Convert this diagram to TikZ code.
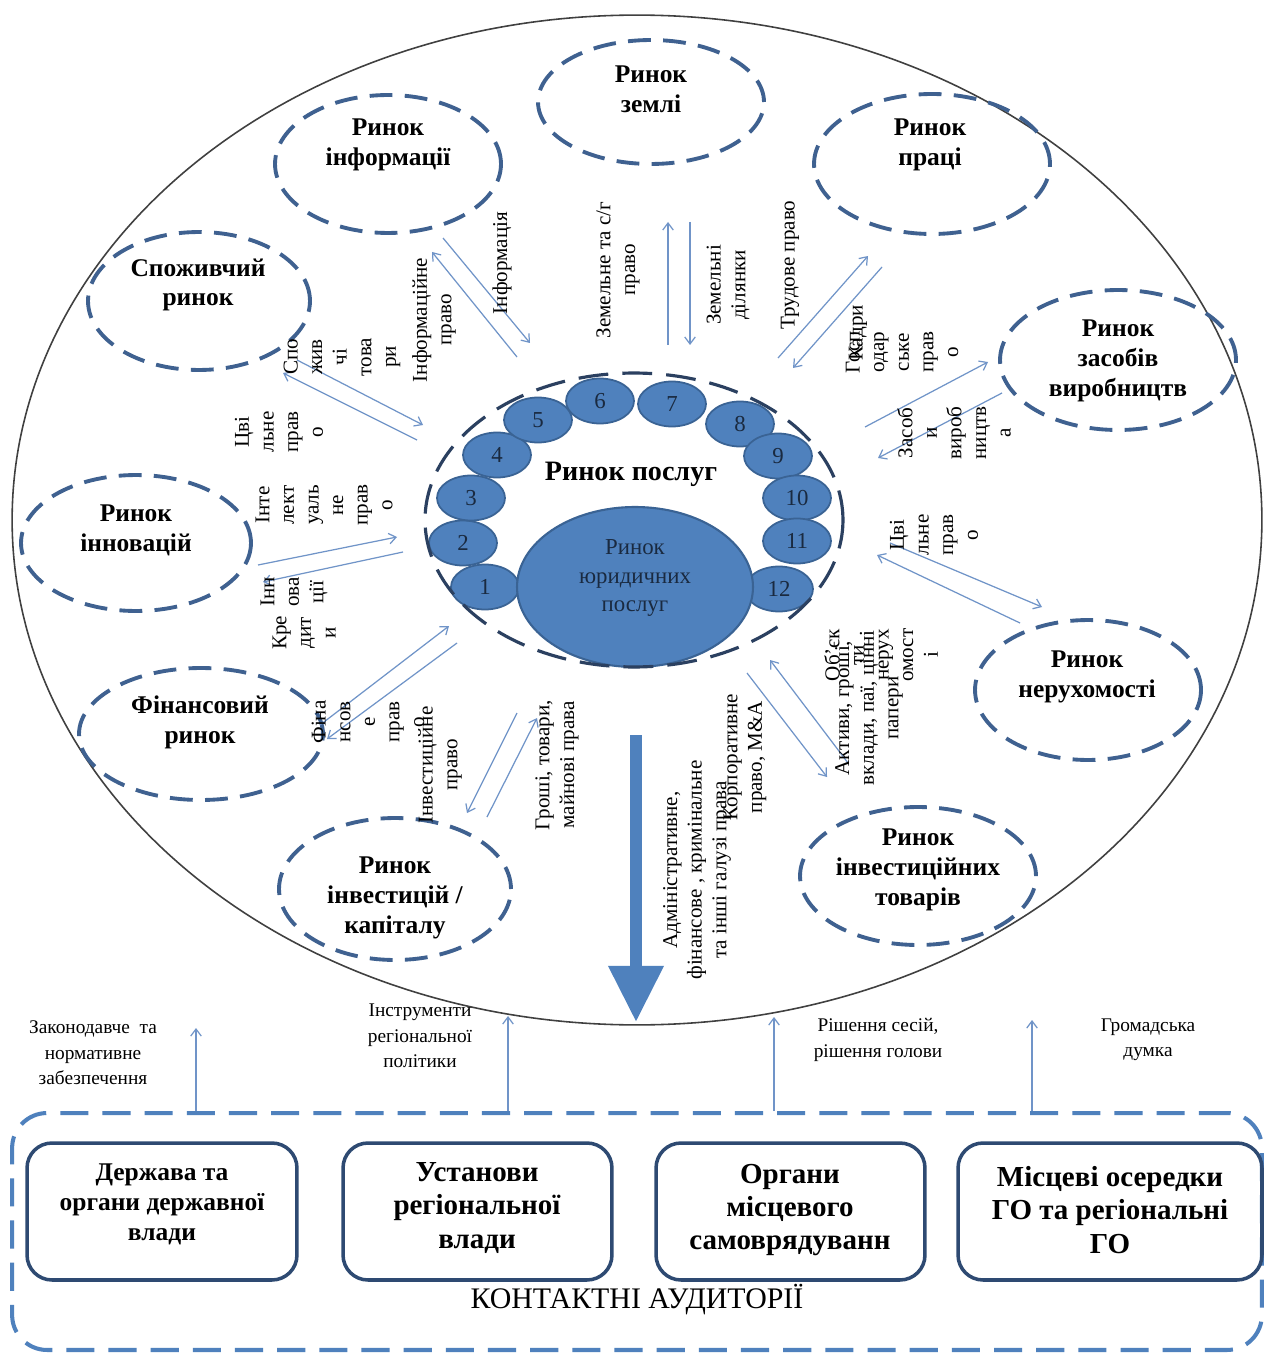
\documentclass[tikz,border=0pt]{standalone}
\usepackage{fontspec}
\setmainfont{Liberation Serif}
\usetikzlibrary{shapes.geometric,arrows.meta}
\definecolor{dashblue}{HTML}{3F6190}
\definecolor{arrblue}{HTML}{7094C8}
\definecolor{fillblue}{HTML}{4F81BD}
\definecolor{fillline}{HTML}{3A6394}
\definecolor{innerdash}{HTML}{2B4060}
\definecolor{boxline}{HTML}{2E4A72}
\definecolor{txtdark}{HTML}{1A2A40}
\begin{document}
\begin{tikzpicture}[x=0.02cm,y=-0.02cm,
  market/.style={ellipse, draw=dashblue, line width=2.2pt, dash pattern=on 13pt off 7pt, inner sep=0pt},
  mtext/.style={font=\fontsize{14.5}{17}\selectfont\bfseries, align=center, inner sep=0pt},
  numb/.style={ellipse, draw=fillline, fill=fillblue, line width=1pt, minimum width=1.36cm, minimum height=0.9cm, inner sep=0pt, font=\fontsize{13}{15}\selectfont, text=txtdark},
  lab/.style={rotate=90, align=center, font=\fontsize{12}{14}\selectfont, inner sep=0pt},
  flow/.style={draw=arrblue, line width=0.7pt, -{Straight Barb[length=4pt,width=6pt]}},
  box/.style={draw=boxline, line width=2pt, rounded corners=0.5cm, minimum height=2.74cm, inner sep=0pt},
  btext/.style={align=center, font=\fontsize{16.5}{19}\selectfont\bfseries, inner sep=0pt},
  small/.style={align=center, font=\fontsize{11}{14.5}\selectfont, inner sep=0pt},
]
\useasboundingbox (0,0) rectangle (1264,1354);
\fill[white] (0,0) rectangle (1264,1354);

% outer ellipse
\node[ellipse, draw=black!75, line width=0.9pt, minimum width=25cm, minimum height=20.2cm, inner sep=0pt] (outer) at (637,520) {};

% markets
\node[market, minimum width=4.52cm, minimum height=2.48cm] (zem) at (651,102) {};
\node[mtext] (zemT) at (651,89) {Ринок\\землі};
\node[market, minimum width=4.52cm, minimum height=2.76cm] (inf) at (388,164) {};
\node[mtext] (infT) at (388,145) {Ринок\\інформації};
\node[market, minimum width=4.72cm, minimum height=2.8cm] (prac) at (932,164) {};
\node[mtext] (pracT) at (930,145) {Ринок\\праці};
\node[market, minimum width=4.44cm, minimum height=2.76cm] (spozh) at (199,301) {};
\node[mtext] (spozhT) at (198,285) {Споживчий\\ринок};
\node[market, minimum width=4.72cm, minimum height=2.8cm] (zasob) at (1118,360) {};
\node[mtext] (zasobT) at (1118,361) {Ринок\\засобів\\виробництв};
\node[market, minimum width=4.6cm, minimum height=2.72cm] (innov) at (136,543) {};
\node[mtext] (innovT) at (136,530) {Ринок\\інновацій};
\node[market, minimum width=4.52cm, minimum height=2.8cm] (neruh) at (1088,690) {};
\node[mtext] (neruhT) at (1087,677) {Ринок\\нерухомості};
\node[market, minimum width=4.88cm, minimum height=2.64cm] (fin) at (201,734) {};
\node[mtext] (finT) at (200,722) {Фінансовий\\ринок};
\node[market, minimum width=4.64cm, minimum height=2.84cm] (invk) at (395,889) {};
\node[mtext] (invkT) at (395,898) {Ринок\\інвестицій /\\капіталу};
\node[market, minimum width=4.72cm, minimum height=2.76cm] (invt) at (918,876) {};
\node[mtext] (invtT) at (918,870) {Ринок\\інвестиційних\\товарів};

% service market
\node[numb] (n1) at (485,587) {1};
\node[numb] (n2) at (463,543) {2};
\node[numb] (n3) at (471,498) {3};
\node[numb] (n4) at (497,455) {4};
\node[numb] (n5) at (538,420) {5};
\node[numb] (n6) at (600,401) {6};
\node[numb] (n7) at (672,404) {7};
\node[numb] (n8) at (740,424) {8};
\node[numb] (n9) at (778,456) {9};
\node[numb] (n10) at (797,498) {10};
\node[numb] (n11) at (797,541) {11};
\node[numb] (n12) at (779,589) {12};
\node[ellipse, draw=fillline, fill=fillblue, line width=1.2pt, minimum width=4.72cm, minimum height=3.2cm, inner sep=0pt] (legal) at (635,587) {};
\node[align=center, font=\fontsize{13}{16}\selectfont, text=txtdark, inner sep=0pt] (legalT) at (635,578) {Ринок\\юридичних\\послуг};
\node[ellipse, draw=innerdash, line width=1.8pt, dash pattern=on 17pt off 8pt, minimum width=8.36cm, minimum height=5.88cm, inner sep=0pt] (serv) at (634,520) {};
\node[font=\fontsize{16}{18}\selectfont\bfseries, inner sep=0pt] (servT) at (631,474) {Ринок послуг};

% flow arrows
\coordinate (a1) at (517,357); \coordinate (b1) at (432,252);
\coordinate (a2) at (443,238); \coordinate (b2) at (530,343);
\coordinate (a3) at (417,440); \coordinate (b3) at (283,373);
\coordinate (a4) at (297,360); \coordinate (b4) at (423,425);
\coordinate (a5) at (258,565); \coordinate (b5) at (397,537);
\coordinate (a6) at (403,552); \coordinate (b6) at (263,582);
\coordinate (a7) at (320,725); \coordinate (b7) at (449,626);
\coordinate (a8) at (457,643); \coordinate (b8) at (327,739);
\coordinate (a9) at (517,713); \coordinate (b9) at (467,813);
\coordinate (a10) at (487,817); \coordinate (b10) at (537,718);
\coordinate (a11) at (668,345); \coordinate (b11) at (668,222);
\coordinate (a12) at (690,222); \coordinate (b12) at (690,345);
\coordinate (a13) at (778,358); \coordinate (b13) at (868,256);
\coordinate (a14) at (882,267); \coordinate (b14) at (793,368);
\coordinate (a15) at (865,427); \coordinate (b15) at (988,362);
\coordinate (a16) at (1002,393); \coordinate (b16) at (878,458);
\coordinate (a17) at (1020,623); \coordinate (b17) at (877,555);
\coordinate (a18) at (890,543); \coordinate (b18) at (1042,607);
\coordinate (a19) at (848,763); \coordinate (b19) at (770,660);
\coordinate (a20) at (747,673); \coordinate (b20) at (827,777);
\foreach \i in {1,...,20} { \draw[flow] (a\i) -- (b\i); }

% rotated labels
\node[lab] (l1) at (434,320) {Інформаційне\\право};
\node[lab] (l2) at (502,263) {Інформація};
\node[lab] (l3) at (342,357) {Спо\\жив\\чі\\това\\ри};
\node[lab] (l4) at (279,432) {Цві\\льне\\прав\\о};
\node[lab] (l5) at (324,505) {Інте\\лект\\уаль\\не\\прав\\о};
\node[lab] (l6) at (294,592) {Інн\\ова\\ції};
\node[lab] (l7) at (304,633) {Кре\\дит\\и};
\node[lab] (l8) at (368,722) {Фіна\\нсов\\е\\прав\\о};
\node[lab] (l9) at (440,765) {Інвестиційне\\право};
\node[lab] (l10) at (557,765) {Гроші, товари,\\майнові права};
\node[lab] (l11) at (618,270) {Земельне та с/г\\право};
\node[lab] (l12) at (728,285) {Земельні\\ділянки};
\node[lab] (l13) at (790,265) {Трудове право};
\node[lab] (l14) at (902,352) {Госп\\одар\\ське\\прав\\о};
\node[lab] (l15) at (858,333) {Кадри};
\node[lab] (l16) at (954,433) {Засоб\\и\\вироб\\ництв\\а};
\node[lab] (l17) at (934,535) {Цві\\льне\\прав\\о};
\node[lab] (l18) at (881,655) {Об’єк\\ти\\нерух\\омост\\і};
\node[lab] (l19) at (869,708) {Активи, гроші,\\вклади, паї, цінні\\папери};
\node[lab] (l20) at (745,757) {Корпоративне\\право, M\&A};
\node[lab] (l21) at (697,870) {Адміністративне,\\фінансове , кримінальне\\та інші галузі права};

% big arrow
\coordinate (dtop) at (636,735); \coordinate (dbot) at (636,1022);
\draw[fillblue, line width=6.5pt, -{Triangle[length=32pt,width=30pt]}] (dtop) -- (dbot);

% contact audiences
\node[draw=fillblue, line width=2.3pt, dash pattern=on 16pt off 8pt, rounded corners=0.7cm, minimum width=25cm, minimum height=4.74cm, inner sep=0pt] (kontakt) at (637,1231.5) {};
\node[box, minimum width=5.4cm] (box1) at (162,1211.5) {};
\node[btext, font=\fontsize{14.5}{17}\selectfont\bfseries] (box1T) at (162,1204) {Держава та\\органи державної\\влади};
\node[box, minimum width=5.38cm] (box2) at (477.5,1211.5) {};
\node[btext] (box2T) at (477,1208) {Установи\\регіональної\\влади};
\node[box, minimum width=5.38cm] (box3) at (790.5,1211.5) {};
\node[btext] (box3T) at (790,1210) {Органи\\місцевого\\самоврядуванн};
\node[box, minimum width=6.08cm] (box4) at (1110,1211.5) {};
\node[btext] (box4T) at (1110,1210) {Місцеві осередки\\ГО та регіональні\\ГО};
\node[font=\fontsize{17}{20}\selectfont, inner sep=0pt] (kontT) at (637,1300) {КОНТАКТНІ АУДИТОРІЇ};

\coordinate (u1) at (196,1028);
\coordinate (u2) at (508,1016);
\coordinate (u3) at (774,1017);
\coordinate (u4) at (1032,1020);
\foreach \i in {1,...,4} { \draw[flow] (u\i |- kontakt.north) -- (u\i); }
\node[small] (t1) at (93,1053) {Законодавче \ та\\нормативне\\забезпечення};
\node[small] (t2) at (420,1036) {Інструменти\\регіональної\\політики};
\node[small] (t3) at (878,1040) {Рішення сесій,\\рішення голови};
\node[small] (t4) at (1148,1040) {Громадська\\думка};
\end{tikzpicture}
\end{document}
